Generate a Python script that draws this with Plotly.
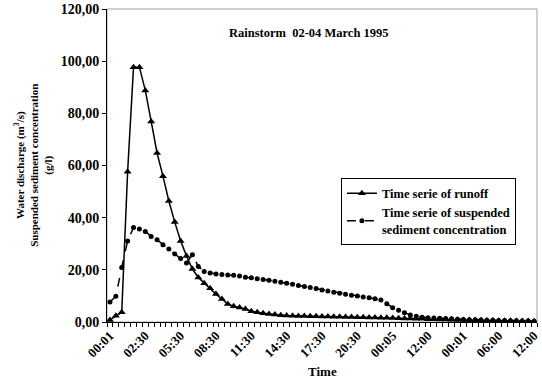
import plotly.graph_objects as go

# 73 hydrograph time steps (category axis); only every 6th step is labelled
tick_labels = ["00:01", "02:30", "05:30", "08:30", "11:30", "14:30", "17:30",
               "20:30", "00:05", "12:00", "00:01", "06:00", "12:00"]
label_step = 6

runoff = [0.8, 2.4, 3.7, 57.6, 97.7, 97.7, 88.8, 76.9, 64.8, 55.9,
          46.4, 38.3, 31.1, 25.3, 20.3, 17.1, 14.9, 12.9, 10.7, 8.8,
          6.9, 6.0, 5.6, 5.0, 4.1, 3.7, 3.4, 3.1, 2.9, 2.6,
          2.5, 2.4, 2.3, 2.3, 2.2, 2.2, 2.1, 2.1, 2.0, 2.0,
          1.9, 1.9, 1.8, 1.8, 1.7, 1.7, 1.6, 1.6, 1.5, 1.4,
          1.3, 1.3, 1.2, 1.2, 1.1, 1.1, 1.0, 1.0, 0.9, 0.9,
          0.8, 0.8, 0.7, 0.7, 0.6, 0.6, 0.5, 0.5, 0.5, 0.4,
          0.4, 0.4, 0.3]

sediment = [7.7, 9.9, 20.9, 31.1, 36.2, 35.7, 34.7, 32.8, 31.5, 29.6,
            28.0, 26.1, 24.3, 22.6, 25.8, 21.3, 19.4, 18.8, 18.4, 18.2,
            18.0, 17.9, 17.6, 17.2, 17.0, 16.6, 16.3, 16.0, 15.6, 15.2,
            14.9, 14.5, 14.0, 13.6, 13.2, 12.8, 12.3, 11.9, 11.4, 11.0,
            10.6, 10.3, 10.0, 9.6, 9.3, 8.9, 8.4, 7.0, 5.5, 4.5,
            3.5, 2.7, 2.2, 1.8, 1.6, 1.5, 1.4, 1.3, 1.2, 1.1,
            1.0, 0.9, 0.9, 0.8, 0.7, 0.7, 0.6, 0.6, 0.5, 0.5,
            0.4, 0.4, 0.3]

x = list(range(len(runoff)))
tickvals = [i * label_step for i in range(len(tick_labels))]

FONT = "Liberation Serif"

fig = go.Figure()
fig.add_trace(go.Scatter(
    x=x, y=runoff, mode="lines+markers", name="Time serie of runoff",
    line=dict(color="black", width=1.5),
    marker=dict(symbol="triangle-up", size=7, color="black"),
))
fig.add_trace(go.Scatter(
    x=x, y=sediment, mode="lines+markers",
    name="Time serie of suspended<br>sediment concentration",
    line=dict(color="black", width=1.5, dash="dash"),
    marker=dict(symbol="circle", size=5, color="black"),
))

fig.update_layout(
    width=542, height=382,
    margin=dict(l=107, r=1, t=9, b=59.5),
    paper_bgcolor="white", plot_bgcolor="white",
    separators=", ",
    font=dict(family=FONT, size=12, color="black"),
    showlegend=True,
    legend=dict(
        x=0.544, y=0.461, xanchor="left", yanchor="top",
        bgcolor="white", bordercolor="black", borderwidth=1,
        font=dict(family=FONT, size=12.5, color="black", weight="bold"),
        itemwidth=30, tracegroupgap=0,
    ),
    xaxis=dict(
        range=[-0.5, len(x) - 0.5],
        tickmode="array", tickvals=tickvals, ticktext=tick_labels,
        tickangle=-45, ticks="", ticklabeloverflow="allow",
        tickfont=dict(family=FONT, size=13, color="black", weight="bold"),
        showline=True, linecolor="black", linewidth=1,
        showgrid=False, zeroline=False,
        minor=dict(tickmode="linear", tick0=-0.5, dtick=1, ticks="outside",
                   ticklen=4, tickcolor="black", showgrid=False),
    ),
    yaxis=dict(
        range=[0, 120], tickmode="linear", tick0=0, dtick=20,
        tickformat=".2f", ticks="outside", ticklen=4, tickcolor="black",
        tickfont=dict(family=FONT, size=14, color="black", weight="bold"),
        showline=True, linecolor="black", linewidth=1,
        showgrid=False, zeroline=False,
    ),
    shapes=[dict(type="rect", xref="paper", yref="paper", x0=0, x1=1, y0=0, y1=1,
                 line=dict(color="#a0a0a0", width=1), layer="below")],
    annotations=[
        dict(text="<b>Rainstorm  02-04 March 1995</b>", xref="paper", yref="paper",
             x=0.468, y=0.923, xanchor="center", yanchor="middle",
             showarrow=False, font=dict(family=FONT, size=12.5)),
        dict(text="<b>Time</b>", xref="paper", yref="paper",
             x=0.502, y=-0.158, xanchor="center", yanchor="middle",
             showarrow=False, font=dict(family=FONT, size=13)),
        dict(text="<b>Water discharge (m<sup>3</sup>/s)<br>Suspended sediment concentration<br>(g/l)</b>",
             xref="paper", yref="paper", x=-0.17, y=0.502, textangle=-90,
             xanchor="center", yanchor="middle",
             showarrow=False, font=dict(family=FONT, size=11)),
    ],
)

fig.write_html("out.html")
